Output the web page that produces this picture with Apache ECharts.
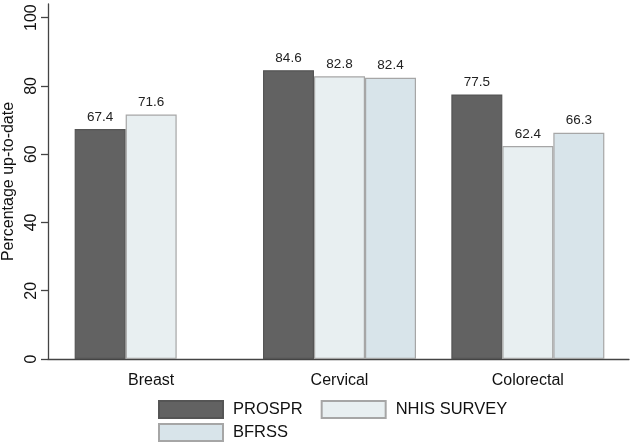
<!DOCTYPE html>
<html>
<head>
<meta charset="utf-8">
<script src="https://cdn.jsdelivr.net/npm/echarts@6/dist/echarts.min.js"></script>
<style>
html,body{margin:0;padding:0;background:#fff;}
#chart{width:633px;height:444px;}
</style>
</head>
<body>
<div id="chart"></div>
<script>
var categories = ['Breast', 'Cervical', 'Colorectal'];
var prosprValues = [67.4, 84.6, 77.5];
var nhisValues = [71.6, 82.8, 62.4];
var bfrssValues = [null, 82.4, 66.3];
var yTickLabels = [0, 20, 40, 60, 80, 100];

var FONT = '"Liberation Sans", Arial, sans-serif';
var chart = echarts.init(document.getElementById('chart'), null, {renderer: 'canvas'});

function barSeries(name, data, color, border) {
  return {
    name: name,
    type: 'bar',
    xAxisIndex: 0,
    yAxisIndex: 0,
    data: data,
    barWidth: 51,
    barGap: '0%',
    itemStyle: {color: color, borderColor: border, borderWidth: 1.2},
    label: {
      show: true,
      position: 'top',
      distance: 5,
      fontFamily: FONT,
      fontSize: 13.5,
      color: '#222'
    },
    emphasis: {disabled: true},
    animation: false
  };
}

var option = {
  backgroundColor: '#fff',
  animation: false,
  grid: [
    {left: 57, right: 11, top: 4, bottom: 85, outerBoundsMode: 'none', containLabel: false},
    {left: 48, right: 4, top: 4, bottom: 85, outerBoundsMode: 'none', containLabel: false}
  ],
  legend: [
    {
      data: ['PROSPR', 'NHIS SURVEY'],
      left: 158, top: 400, padding: 0,
      itemWidth: 64, itemHeight: 17, itemGap: 18,
      icon: 'rect',
      selectedMode: false,
      textStyle: {fontFamily: FONT, fontSize: 16.5, color: '#111', padding: [0, 0, 0, 5]}
    },
    {
      data: ['BFRSS'],
      left: 158, top: 423, padding: 0,
      itemWidth: 64, itemHeight: 17,
      icon: 'rect',
      selectedMode: false,
      textStyle: {fontFamily: FONT, fontSize: 16.5, color: '#111', padding: [0, 0, 0, 5]}
    }
  ],
  xAxis: [
    {
      type: 'category',
      gridIndex: 0,
      data: categories,
      axisLine: {show: false},
      axisTick: {show: false},
      axisLabel: {fontFamily: FONT, fontSize: 16, color: '#111', margin: 14}
    },
    {
      type: 'category',
      gridIndex: 1,
      data: categories,
      axisLine: {show: true, lineStyle: {color: '#444', width: 1.3}},
      axisTick: {show: false},
      axisLabel: {show: false}
    }
  ],
  yAxis: [
    {
      type: 'value',
      gridIndex: 0,
      min: 0,
      max: 104,
      offset: 9,
      name: 'Percentage up-to-date',
      nameLocation: 'middle',
      nameGap: 20,
      nameTextStyle: {fontFamily: FONT, fontSize: 16, color: '#111'},
      axisLine: {show: true, lineStyle: {color: '#444', width: 1.3}},
      axisTick: {show: true, length: 7, lineStyle: {color: '#444', width: 1.3}, customValues: yTickLabels},
      axisLabel: {rotate: 90, fontFamily: FONT, fontSize: 16, color: '#111', margin: 8, customValues: yTickLabels},
      splitLine: {show: false}
    },
    {
      type: 'value',
      gridIndex: 1,
      min: 0,
      max: 104,
      show: false
    }
  ],
  series: [
    barSeries('PROSPR', prosprValues, '#626262', '#555555'),
    barSeries('NHIS SURVEY', nhisValues, '#e8eff1', '#a6a6a6'),
    barSeries('BFRSS', bfrssValues, '#d8e4ea', '#a6a6a6')
  ]
};
chart.setOption(option);
</script>
</body>
</html>
